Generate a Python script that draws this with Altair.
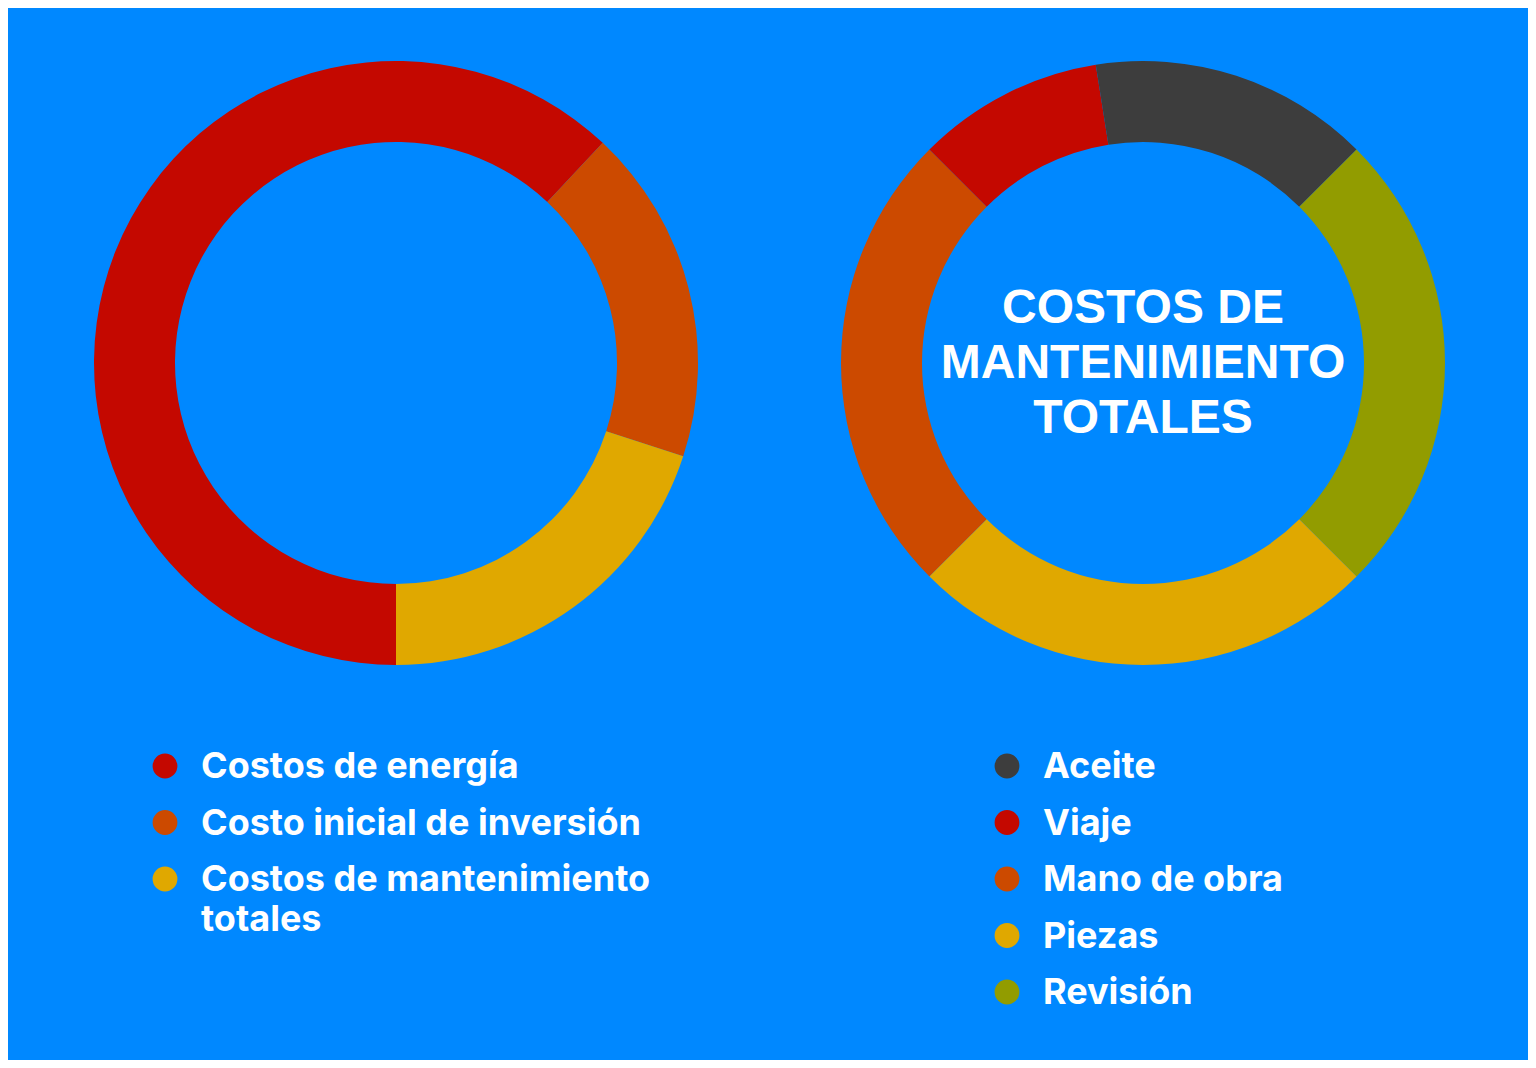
import altair as alt
import pandas as pd
import math

# ---- data ----
left_cats = ["Costos de energía", "Costo inicial de inversión", "Costos de mantenimiento\ntotales"]
left_vals = [62, 18, 20]
left_colors = ["#C40800", "#CC4A00", "#E0A800"]

right_cats = ["Mano de obra", "Viaje", "Aceite", "Revisión", "Piezas"]
right_vals = [25, 10, 15, 25, 25]
right_colors = ["#CC4A00", "#C40800", "#3D3D3D", "#929C00", "#E0A800"]

right_legend_order = ["Aceite", "Viaje", "Mano de obra", "Piezas", "Revisión"]
center_title = "COSTOS DE\nMANTENIMIENTO\nTOTALES"

BG = "#0088FF"

all_cats = left_cats + right_cats
all_colors = left_colors + right_colors
color_scale = alt.Scale(domain=all_cats, range=all_colors)

left_df = pd.DataFrame({"cat": left_cats, "val": left_vals, "ord": list(range(len(left_cats)))})
right_df = pd.DataFrame({"cat": right_cats, "val": right_vals, "ord": list(range(len(right_cats)))})

OUT_R, IN_R = 302, 221

left_arc = alt.Chart(left_df).mark_arc(radius=OUT_R, radius2=IN_R, stroke=None).encode(
    theta=alt.Theta("val:Q", stack=True, scale=alt.Scale(range=[math.pi, 3 * math.pi])),
    color=alt.Color("cat:N", scale=color_scale, legend=None),
    order=alt.Order("ord:Q"),
    x=alt.value(388), y=alt.value(355),
)

right_arc = alt.Chart(right_df).mark_arc(radius=OUT_R, radius2=IN_R, stroke=None).encode(
    theta=alt.Theta("val:Q", stack=True,
                    scale=alt.Scale(range=[1.25 * math.pi, 3.25 * math.pi])),
    color=alt.Color("cat:N", scale=color_scale, legend=None),
    order=alt.Order("ord:Q"),
    x=alt.value(1135), y=alt.value(355),
)

center = alt.Chart(pd.DataFrame({"t": [center_title]})).mark_text(
    font="Liberation Sans", fontWeight="bold", fontSize=48, color="white",
    align="center", baseline="middle", lineBreak="\n", lineHeight=55, dy=-54,
).encode(text="t:N", x=alt.value(1135), y=alt.value(355))

# legends
leg_left = pd.DataFrame({"cat": left_cats, "idx": list(range(len(left_cats)))})
leg_right = pd.DataFrame({"cat": right_legend_order, "idx": list(range(len(right_legend_order)))})

yscale = alt.Scale(domain=[0, 4], range=[758, 984])


def legend(df, cx, tx):
    dots = alt.Chart(df).mark_circle(size=616, opacity=1).encode(
        x=alt.value(cx),
        y=alt.Y("idx:Q", scale=yscale, axis=None),
        color=alt.Color("cat:N", scale=color_scale, legend=None),
    )
    labels = alt.Chart(df).mark_text(
        font="Inter", fontWeight="bold", fontSize=36, color="white",
        align="left", baseline="alphabetic", dy=12, lineBreak="\n", lineHeight=40,
    ).encode(
        x=alt.value(tx),
        y=alt.Y("idx:Q", scale=yscale, axis=None),
        text="cat:N",
    )
    return dots + labels


chart = alt.layer(
    left_arc, right_arc, center,
    legend(leg_left, 157, 193),
    legend(leg_right, 999, 1035),
).resolve_scale(theta="independent").properties(
    width=1520, height=1052, padding=0, autosize=alt.AutoSizeParams(type="none"),
    background=BG,
).configure_view(stroke=None, fill=BG)

chart.save("out.html", embed_options={"renderer": "svg", "actions": False})
